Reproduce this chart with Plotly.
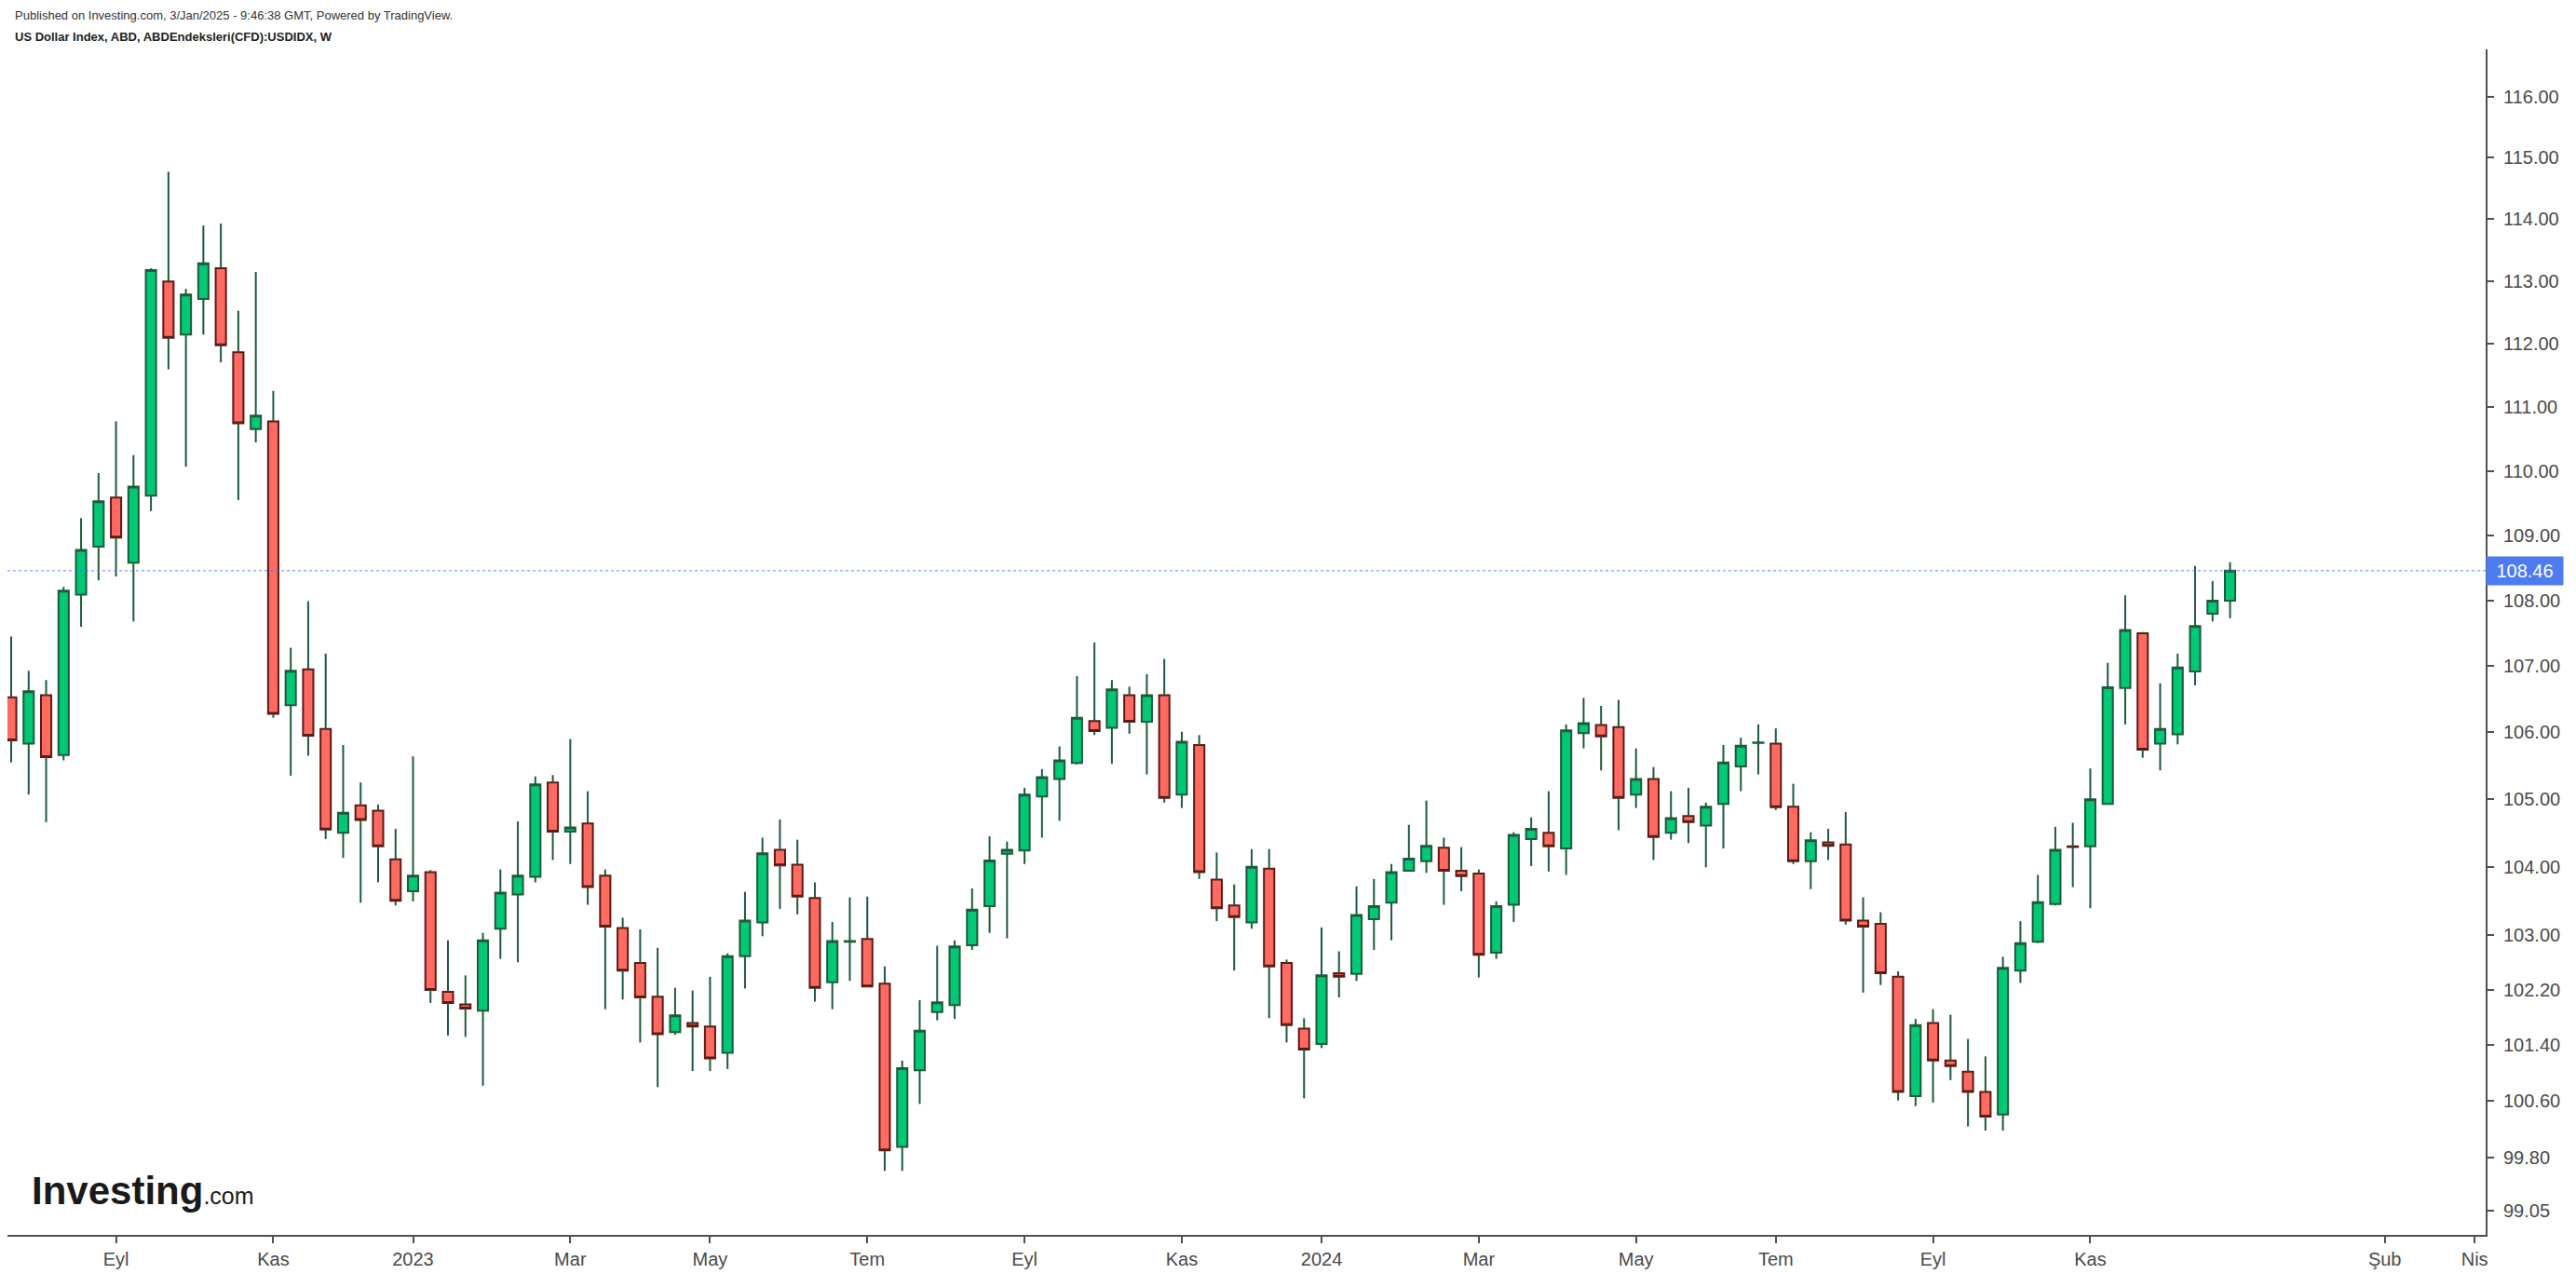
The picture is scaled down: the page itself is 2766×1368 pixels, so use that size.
import numpy as np
import pandas as pd
import plotly.graph_objects as go

# Weekly OHLC, US Dollar Index, weeks starting 2022-07-25 .. 2024-12-30
open_ = [106.53, 105.83, 106.56, 105.66, 108.09, 108.83, 109.59, 108.58, 109.62, 113.00,
         112.15, 112.72, 113.21, 111.87, 110.66, 110.78, 106.41, 106.95, 106.05, 104.50,
         104.91, 104.83, 104.11, 103.64, 103.92, 102.17, 101.99, 101.90, 103.09, 103.59,
         103.85, 105.25, 104.52, 104.64, 103.87, 103.10, 102.59, 102.10, 101.59, 101.72,
         101.67, 101.29, 102.69, 103.18, 104.25, 104.03, 103.54, 102.31, 102.90, 102.94,
         102.29, 99.95, 101.04, 101.88, 101.98, 102.85, 103.42, 104.19, 104.24, 105.04,
         105.30, 105.54, 106.17, 106.07, 106.56, 106.16, 106.56, 105.07, 105.81, 103.81,
         103.43, 103.18, 103.97, 102.59, 101.64, 101.42, 102.44, 102.43, 103.23, 103.47,
         103.94, 104.08, 104.28, 103.94, 103.90, 102.74, 103.44, 104.41, 104.50, 104.27,
         105.99, 106.11, 106.08, 105.07, 105.30, 104.50, 104.75, 104.61, 104.93, 105.49,
         105.84, 105.83, 104.89, 104.08, 104.36, 104.33, 103.21, 103.16, 102.39, 100.67,
         101.72, 101.18, 101.02, 100.73, 100.41, 102.48, 102.90, 103.45, 104.30, 104.30,
         104.93, 106.67, 107.50, 105.83, 105.97, 106.92, 107.80, 108.00]
high = [107.45, 106.93, 106.79, 108.21, 109.27, 109.97, 110.78, 110.25, 113.21, 114.77,
        112.88, 113.90, 113.93, 112.53, 113.15, 111.26, 107.28, 107.99, 107.19, 105.81,
        105.25, 104.92, 104.56, 105.64, 103.95, 102.92, 102.41, 103.03, 103.96, 104.67,
        105.34, 105.36, 105.90, 105.12, 103.96, 103.25, 103.08, 102.81, 102.23, 102.19,
        102.39, 102.73, 103.63, 104.43, 104.70, 104.40, 103.77, 103.19, 103.55, 103.56,
        102.54, 101.18, 102.05, 102.84, 102.92, 103.68, 104.45, 104.37, 105.17, 105.45,
        105.79, 106.85, 107.36, 106.79, 106.69, 106.88, 107.11, 106.01, 105.96, 104.21,
        103.74, 104.26, 104.26, 102.64, 101.79, 103.11, 102.76, 103.71, 103.82, 104.04,
        104.62, 104.98, 104.43, 104.29, 103.96, 103.49, 104.51, 104.73, 105.12, 106.12,
        106.52, 106.40, 106.49, 105.76, 105.48, 105.12, 105.17, 104.95, 105.81, 105.92,
        106.12, 106.06, 105.23, 104.51, 104.56, 104.81, 103.55, 103.33, 102.47, 101.78,
        101.92, 101.84, 101.49, 101.24, 102.68, 103.20, 103.88, 104.59, 104.65, 105.46,
        107.05, 108.08, 107.52, 106.74, 107.19, 108.53, 108.30, 108.59]
low = [105.55, 105.07, 104.66, 105.58, 107.60, 108.31, 108.37, 107.68, 109.38, 111.60,
       110.07, 112.15, 111.71, 109.55, 110.45, 106.22, 105.35, 105.65, 104.41, 104.13,
       103.47, 103.77, 103.43, 103.49, 102.01, 101.54, 101.52, 100.82, 102.65, 102.60,
       103.77, 104.10, 104.04, 103.44, 101.92, 102.06, 101.44, 100.80, 101.55, 101.03,
       101.03, 101.06, 102.22, 102.98, 103.38, 103.30, 102.03, 101.92, 102.33, 102.24,
       99.61, 99.61, 100.56, 101.76, 101.78, 102.78, 103.03, 102.95, 104.04, 104.43,
       104.68, 105.52, 105.96, 105.53, 105.98, 105.37, 104.95, 104.87, 103.82, 103.20,
       102.48, 103.09, 101.79, 101.44, 100.64, 101.36, 102.09, 102.33, 102.78, 102.92,
       103.93, 103.91, 103.44, 103.64, 102.38, 102.65, 103.19, 104.01, 103.93, 103.88,
       105.76, 105.43, 104.54, 104.87, 104.10, 104.40, 104.35, 103.99, 104.27, 105.12,
       105.37, 104.84, 104.04, 103.67, 104.10, 103.15, 102.16, 102.27, 100.61, 100.53,
       100.58, 100.90, 100.24, 100.18, 100.18, 102.30, 102.88, 103.43, 103.70, 103.39,
       104.92, 106.12, 105.62, 105.43, 105.82, 106.71, 107.68, 107.73]
close = [105.88, 106.62, 105.63, 108.15, 108.78, 109.53, 108.97, 109.76, 113.18, 112.10,
         112.79, 113.29, 111.98, 110.75, 110.87, 106.28, 106.93, 105.95, 104.55, 104.80,
         104.69, 104.30, 103.50, 103.87, 102.20, 102.01, 101.93, 102.92, 103.62, 103.87,
         105.22, 104.52, 104.58, 103.70, 103.12, 102.48, 102.09, 101.56, 101.83, 101.67,
         101.21, 102.69, 103.21, 104.20, 104.02, 103.56, 102.23, 102.91, 102.91, 102.25,
         99.90, 101.07, 101.61, 102.02, 102.83, 103.37, 104.09, 104.25, 105.07, 105.33,
         105.58, 106.22, 106.02, 106.65, 106.16, 106.56, 105.02, 105.86, 103.92, 103.39,
         103.26, 104.00, 102.54, 101.69, 101.34, 102.41, 102.39, 103.29, 103.42, 103.92,
         104.12, 104.31, 103.94, 103.86, 102.71, 103.42, 104.47, 104.56, 104.30, 106.03,
         106.14, 105.94, 105.02, 105.30, 104.44, 104.72, 104.66, 104.89, 105.55, 105.80,
         105.85, 104.88, 104.08, 104.39, 104.31, 103.21, 103.12, 102.44, 100.73, 101.69,
         101.18, 101.10, 100.73, 100.38, 102.52, 102.88, 103.48, 104.25, 104.29, 105.00,
         106.68, 107.55, 105.74, 106.05, 106.98, 107.61, 108.00, 108.46]

first_week = "2022-07-25"
x_tick_vals = ["2022-09-05", "2022-11-07", "2023-01-02", "2023-03-06", "2023-05-01",
               "2023-07-03", "2023-09-04", "2023-11-06", "2024-01-01", "2024-03-04",
               "2024-05-06", "2024-07-01", "2024-09-02", "2024-11-04", "2025-03-02",
               "2025-04-07"]
x_tick_text = ["Eyl", "Kas", "2023", "Mar", "May", "Tem", "Eyl", "Kas", "2024", "Mar",
               "May", "Tem", "Eyl", "Kas", "Şub", "Nis"]
y_tick_vals = [99.05, 99.80, 100.60, 101.40, 102.20, 103, 104, 105, 106, 107, 108,
               109, 110, 111, 112, 113, 114, 115, 116]
last_price = 108.46

x_range = ["2022-07-23 12:00", "2025-04-11 10:00"]
y_range = [98.71, 116.78]

GREEN = "#00C875"
GREEN_EDGE = "#1E5A3B"
RED = "#FF6A61"
RED_EDGE = "#5C1A16"
WICK = "#1E5A3B"
AXIS = "#505050"
TXT = "#4a4a4a"
FONT = "Liberation Sans, Arial, sans-serif"

dates = pd.date_range(first_week, periods=len(open_), freq="7D")
o = np.array(open_)
c = np.array(close)
body_top = np.maximum(o, c)
body_bot = np.minimum(o, c)

wx, wy = [], []
for d, h, l, t, b in zip(dates, high, low, body_top, body_bot):
    wx += [d, d, None, d, d, None]
    wy += [h, t, None, b, l, None]

fig = go.Figure()
fig.add_trace(go.Scatter(x=wx, y=wy, mode="lines", line=dict(color=WICK, width=2),
                         hoverinfo="skip", showlegend=False))
fig.add_trace(go.Candlestick(
    x=dates, open=o, high=body_top, low=body_bot, close=c,
    increasing=dict(line=dict(color=GREEN_EDGE, width=2), fillcolor=GREEN),
    decreasing=dict(line=dict(color=RED_EDGE, width=2), fillcolor=RED),
    whiskerwidth=0, showlegend=False))
fig.add_trace(go.Scatter(x=x_range, y=[last_price, last_price], mode="lines",
                         line=dict(color="rgba(76,124,240,0.6)", width=1.5, dash="dot"),
                         hoverinfo="skip", showlegend=False))

fig.update_layout(
    template="none",
    width=2766, height=1368,
    margin=dict(l=8, r=97, t=53, b=42, autoexpand=False),
    paper_bgcolor="white", plot_bgcolor="white",
    showlegend=False,
    boxgap=0.41, boxgroupgap=0,
    font=dict(family=FONT, size=20, color=TXT),
)
fig.update_xaxes(
    type="date", range=x_range, tickmode="array", tickvals=x_tick_vals, ticktext=x_tick_text,
    showgrid=False, zeroline=False, showline=True, linecolor=AXIS, linewidth=2,
    ticks="outside", ticklen=7, tickwidth=2, tickcolor=AXIS,
    tickfont=dict(family=FONT, size=20, color=TXT),
    rangeslider=dict(visible=False), automargin=False,
)
fig.update_yaxes(
    type="log", range=[np.log10(y_range[0]), np.log10(y_range[1])], side="right",
    tickmode="array", tickvals=y_tick_vals, ticktext=[f"{v:.2f}" for v in y_tick_vals],
    showgrid=False, zeroline=False, showline=True, linecolor=AXIS, linewidth=2,
    ticks="outside", ticklen=7, tickwidth=2, tickcolor=AXIS, ticklabelstandoff=6,
    tickfont=dict(family=FONT, size=20, color=TXT), automargin=False,
)

fig.add_annotation(
    xref="paper", yref="paper", x=0, y=1, xanchor="left", yanchor="middle",
    xshift=6, yshift=37, showarrow=False,
    text="Published on Investing.com, 3/Jan/2025 - 9:46:38 GMT, Powered by TradingView.",
    font=dict(family=FONT, size=13, color="#333333"))
fig.add_annotation(
    xref="paper", yref="paper", x=0, y=1, xanchor="left", yanchor="middle",
    xshift=6, yshift=14, showarrow=False,
    text="<b>US Dollar Index, ABD, ABDEndeksleri(CFD):USDIDX, W</b>",
    font=dict(family=FONT, size=13, color="#222222"))
fig.add_annotation(
    xref="paper", yref="paper", x=0, y=0, xanchor="left", yanchor="middle",
    xshift=24, yshift=48, showarrow=False,
    text="<b>Investing</b><span style=\"font-size:25px\">.com</span>",
    font=dict(family=FONT, size=42, color="#1a1a1a"))
fig.add_annotation(
    xref="paper", yref="y", x=1, y=np.log10(last_price), xanchor="left", yanchor="middle",
    showarrow=False, text=str(last_price), bgcolor="#4D7CF0", borderpad=4, width=74,
    font=dict(family=FONT, size=20, color="white"))

fig.write_html("out.html", include_plotlyjs=True, config={"displayModeBar": False},
               post_script="document.body.style.margin='0';document.body.style.overflow='hidden';")
